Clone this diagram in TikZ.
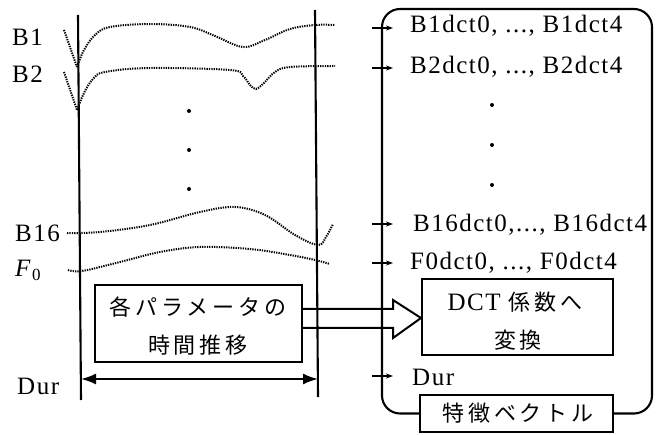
\documentclass[tikz,border=0pt]{standalone}
\usepackage{fontspec}
\setmainfont{Liberation Serif}
\newfontfamily\jpfont[LetterSpace=18]{Noto Sans CJK JP}
\usetikzlibrary{arrows.meta}
\begin{document}
\begin{tikzpicture}[x=1pt,y=-1pt,
  lbl/.style={anchor=west,inner sep=0pt,font=\fontsize{25}{28}\selectfont\addfontfeatures{LetterSpace=6}},
  jp/.style={inner sep=0pt,font=\fontsize{22}{26}\selectfont\jpfont},
  curve/.style={line width=2pt,dash pattern=on 1.3pt off 1.1pt},
  vline/.style={line width=2.1pt},
  boxline/.style={draw,line width=2pt},
  smallarr/.style={-{Stealth[length=7pt,width=5pt]},line width=1.3pt},
  dotmark/.style={circle,fill,inner sep=0pt,minimum size=4pt}]
\useasboundingbox (0,0) rectangle (659,435);
% vertical lines
\coordinate (L1t) at (78,15); \coordinate (L1b) at (81,400);
\coordinate (L2t) at (315,10); \coordinate (L2b) at (318,397);
\draw[vline] (L1t) -- (L1b);
\draw[vline] (L2t) -- (L2b);
% left labels
\node[lbl] (b1) at (12,37) {B1};
\node[lbl] (b2) at (12,74) {B2};
\node[lbl] (b16) at (15,233) {B16};
\node[lbl] (f0) at (15,270) {\textit{F}\raisebox{-0.35ex}{\fontsize{17}{17}\selectfont 0}};
\node[lbl] (dur) at (17,386) {Dur};
% dotted curves
\draw[curve] (64,30) -- (77,67);
\draw[curve] plot[smooth,tension=0.6] coordinates {(77,67) (84,50) (95,35) (110,27) (150,24) (190,27) (215,36) (243,47) (265,40) (290,29) (315,25) (335,25)};
\draw[curve] (64,72) -- (77,110);
\draw[curve] plot[smooth,tension=0.6] coordinates {(77,110) (84,93) (93,79) (105,72) (150,68) (230,70) (243,76) (250,85) (256,89) (264,83) (275,72) (290,67) (335,66)};
\draw[curve] plot[smooth,tension=0.6] coordinates {(67,233) (100,232) (150,225) (200,212) (235,207) (265,215) (295,235) (318,245) (326,237) (333,224)};
\draw[curve] plot[smooth,tension=0.6] coordinates {(68,270) (82,271) (120,262) (160,252) (200,247) (250,249) (290,255) (315,260) (330,264)};
% vertical dots
\node[dotmark] (d1) at (189,111) {};
\node[dotmark] (d2) at (189,150) {};
\node[dotmark] (d3) at (189,189) {};
% box 1
\node[boxline,minimum width=207pt,minimum height=77pt,inner sep=0pt] (box1) at (198.5,323.5) {};
\node[jp] (t1a) at (198,307) {各パラメータの};
\node[jp] (t1b) at (198,345) {時間推移};
% double arrow
\coordinate (da1) at (81,379); \coordinate (da2) at (318,379);
\draw[line width=2pt,{Latex[length=15pt,width=11pt]}-{Latex[length=15pt,width=11pt]}] (da1) -- (da2);
% DCT box
\node[boxline,minimum width=191pt,minimum height=76pt,inner sep=0pt] (dct) at (517.5,317) {};
\node[inner sep=0pt,font=\fontsize{25}{28}\selectfont] (t2a) at (515,302) {\addfontfeatures{LetterSpace=6}DCT\hspace{8pt}{\fontsize{22}{26}\selectfont\jpfont 係数へ}};
\node[jp] (t2b) at (518,340) {変換};
% hollow arrow
\draw[line width=2pt,line join=miter] (box1.east |- 0,309) -- (393,309) -- (393,300) -- (dct.west |- 0,318) -- (393,338) -- (393,328) -- (box1.east |- 0,328);
% feature box
\node[boxline,minimum width=193pt,minimum height=37pt,inner sep=0pt] (feat) at (516.5,413.5) {};
\node[jp] (t3) at (518,413) {特徴ベクトル};
% rounded frame
\draw[line width=2.1pt,rounded corners=18pt] (feat.west) -- (382,413.5) -- (382,9) -- (652,9) -- (652,413.5) -- (feat.east);
% right texts
\node[lbl] (r1) at (410,26) {B1dct0, ..., B1dct4};
\node[lbl] (r2) at (410,67) {B2dct0, ..., B2dct4};
\node[dotmark] (e1) at (492,105) {};
\node[dotmark] (e2) at (492,145) {};
\node[dotmark] (e3) at (492,185) {};
\node[lbl] (r16) at (413,225) {B16dct0,..., B16dct4};
\node[lbl] (rf) at (410,263) {F0dct0, ..., F0dct4};
\node[lbl] (rd) at (412,377) {Dur};
% small arrows
\foreach \n/\yy in {a/28,b/68,c/224,d/263,e/376}{
  \coordinate (s\n) at (372,\yy); \coordinate (e\n) at (393,\yy);
  \draw[smallarr] (s\n) -- (e\n);
}
\end{tikzpicture}
\end{document}
